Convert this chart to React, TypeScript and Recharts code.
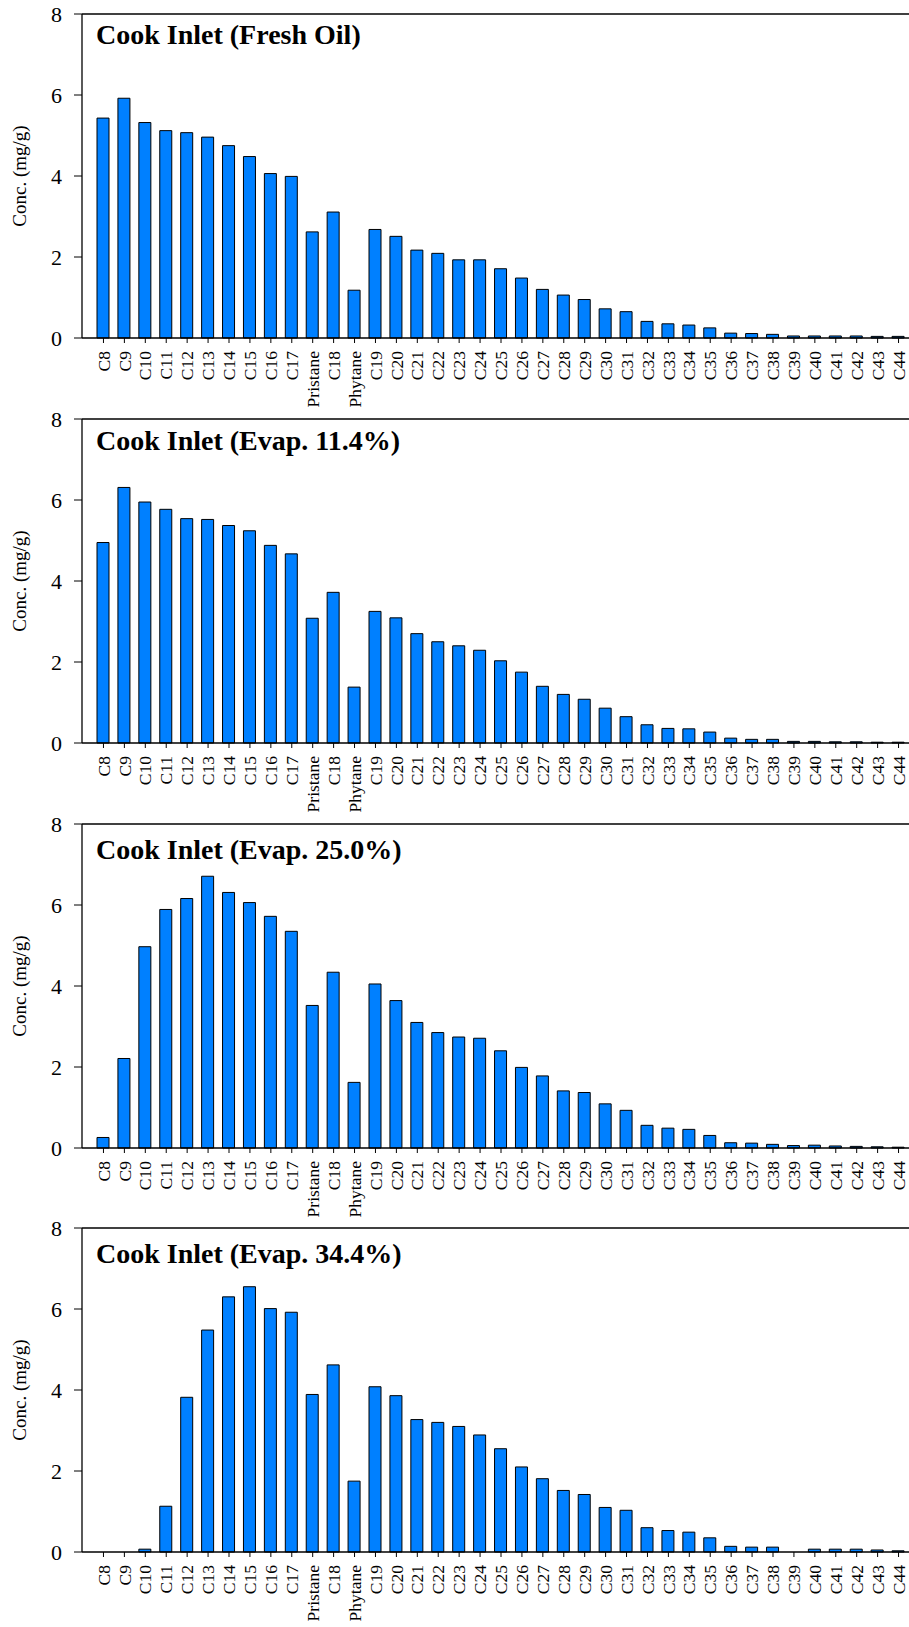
import { BarChart, Bar, XAxis, YAxis, ReferenceLine } from 'recharts'

const categories = [
  'C8', 'C9', 'C10', 'C11', 'C12', 'C13', 'C14', 'C15', 'C16', 'C17',
  'Pristane', 'C18', 'Phytane',
  'C19', 'C20', 'C21', 'C22', 'C23', 'C24', 'C25', 'C26', 'C27', 'C28', 'C29', 'C30',
  'C31', 'C32', 'C33', 'C34', 'C35', 'C36', 'C37', 'C38', 'C39', 'C40', 'C41', 'C42', 'C43', 'C44',
]

const freshOil = [
  5.43, 5.92, 5.32, 5.12, 5.07, 4.96, 4.75, 4.48, 4.06, 3.99,
  2.62, 3.11, 1.18,
  2.68, 2.51, 2.17, 2.09, 1.93, 1.93, 1.71, 1.48, 1.2, 1.06, 0.95, 0.72,
  0.65, 0.41, 0.35, 0.32, 0.25, 0.12, 0.11, 0.09, 0.05, 0.05, 0.05, 0.05, 0.04, 0.04,
]

const evap114 = [
  4.95, 6.31, 5.95, 5.77, 5.54, 5.52, 5.37, 5.24, 4.88, 4.67,
  3.08, 3.72, 1.38,
  3.25, 3.09, 2.7, 2.5, 2.4, 2.29, 2.03, 1.75, 1.4, 1.2, 1.08, 0.86,
  0.65, 0.45, 0.36, 0.35, 0.27, 0.12, 0.09, 0.09, 0.04, 0.04, 0.03, 0.03, 0.02, 0.02,
]

const evap250 = [
  0.26, 2.21, 4.97, 5.89, 6.16, 6.71, 6.31, 6.06, 5.72, 5.35,
  3.52, 4.34, 1.62,
  4.05, 3.64, 3.1, 2.85, 2.74, 2.71, 2.4, 1.99, 1.78, 1.41, 1.37, 1.09,
  0.93, 0.56, 0.49, 0.46, 0.31, 0.13, 0.12, 0.09, 0.06, 0.07, 0.05, 0.04, 0.03, 0.02,
]

const evap344 = [
  0, 0, 0.07, 1.13, 3.82, 5.48, 6.3, 6.55, 6.01, 5.92,
  3.89, 4.62, 1.75,
  4.08, 3.86, 3.27, 3.2, 3.1, 2.89, 2.55, 2.1, 1.81, 1.52, 1.42, 1.1,
  1.03, 0.6, 0.53, 0.49, 0.35, 0.14, 0.12, 0.12, 0, 0.07, 0.07, 0.07, 0.05, 0.03,
]

const yTicks = [0, 2, 4, 6, 8]

const FONT = '"Liberation Serif", "Times New Roman", serif'

function RotatedTick(props: any) {
  const { x, y, payload } = props
  return (
    <g transform={`translate(${x},${y})`}>
      <text
        transform="rotate(-90)"
        textAnchor="end"
        dy="0.35em"
        fontFamily={FONT}
        fontSize={17.5}
        fill="#000"
      >
        {payload.value}
      </text>
    </g>
  )
}

type PanelProps = {
  title: string
  values: number[]
  top: number
  titleBaseline: number
}

function Panel({ title, values, top, titleBaseline }: PanelProps) {
  const data = categories.map((name, i) => ({ name, conc: values[i] }))
  return (
    <div style={{ position: 'absolute', left: 0, top, width: 909, height: 420 }}>
      <BarChart
        width={909}
        height={420}
        data={data}
        margin={{ top: 14, right: 0, bottom: 7, left: 0 }}
        barCategoryGap={0}
      >
        <XAxis
          dataKey="name"
          interval={0}
          height={75}
          padding={{ left: 11, right: 0 }}
          tickSize={5}
          tickMargin={8}
          axisLine={{ stroke: '#000', strokeWidth: 1.3 }}
          tickLine={{ stroke: '#000' }}
          tick={<RotatedTick />}
        />
        <YAxis
          type="number"
          domain={[0, 8]}
          ticks={yTicks}
          width={82}
          tickSize={8}
          tickMargin={12}
          axisLine={{ stroke: '#000', strokeWidth: 1.3 }}
          tickLine={{ stroke: '#000' }}
          tick={{ fill: '#000', fontSize: 22, fontFamily: FONT }}
        />
        <ReferenceLine y={8} stroke="#000" strokeWidth={1.3} />
        <Bar
          dataKey="conc"
          barSize={12}
          fill="#0080ff"
          stroke="#000"
          strokeWidth={1}
          isAnimationActive={false}
        />
      </BarChart>
      <div
        style={{
          position: 'absolute',
          left: 96,
          top: titleBaseline - 23.4,
          fontFamily: FONT,
          fontWeight: 'bold',
          fontSize: 28,
          lineHeight: '28px',
          whiteSpace: 'nowrap',
          color: '#000',
        }}
      >
        {title}
      </div>
      <div
        style={{
          position: 'absolute',
          left: 20,
          top: 176,
          transform: 'translate(-50%, -50%) rotate(-90deg)',
          fontFamily: FONT,
          fontSize: 19,
          whiteSpace: 'nowrap',
          color: '#000',
        }}
      >
        Conc. (mg/g)
      </div>
    </div>
  )
}

export default function App() {
  return (
    <div style={{ position: 'absolute', left: 0, top: 0, width: 909, height: 1627, background: '#fff' }}>
      <Panel title="Cook Inlet (Fresh Oil)" values={freshOil} top={0} titleBaseline={44} />
      <Panel title="Cook Inlet (Evap. 11.4%)" values={evap114} top={405} titleBaseline={45} />
      <Panel title="Cook Inlet (Evap. 25.0%)" values={evap250} top={810} titleBaseline={49} />
      <Panel title="Cook Inlet (Evap. 34.4%)" values={evap344} top={1214} titleBaseline={49} />
    </div>
  )
}
